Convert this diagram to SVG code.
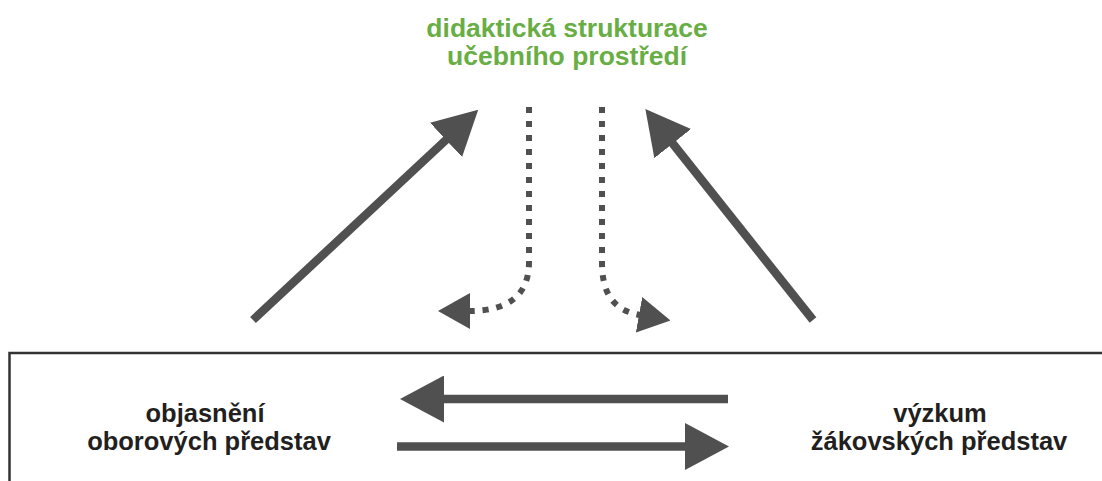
<svg xmlns="http://www.w3.org/2000/svg" width="1102" height="481" viewBox="0 0 1102 481">
  <style>
    .title { font-family: "Liberation Sans", Arial, sans-serif; font-weight: bold; font-size: 26.5px; fill: #68ae44; text-anchor: middle; }
    .label { font-family: "Liberation Sans", Arial, sans-serif; font-weight: bold; font-size: 25.5px; fill: #231f20; text-anchor: middle; }
    .solid { fill: none; stroke: #505050; stroke-width: 8.5; }
    .dotted { fill: none; stroke: #505050; stroke-width: 6; stroke-dasharray: 6 8; }
    .frame { fill: none; stroke: #333333; stroke-width: 2.5; }
  </style>
  <defs>
    <marker id="head" viewBox="0 0 44 47" refX="2" refY="23.5" markerWidth="44" markerHeight="47" markerUnits="userSpaceOnUse" orient="auto">
      <path d="M0,0 L44,23.5 L0,47 Z" fill="#505050"/>
    </marker>
    <marker id="dhead" viewBox="0 0 32 36" refX="1" refY="18" markerWidth="32" markerHeight="36" markerUnits="userSpaceOnUse" orient="auto">
      <path d="M0,0 L32,18 L0,36 Z" fill="#505050"/>
    </marker>
  </defs>

  <rect width="1102" height="481" fill="#ffffff"/>

  <g id="frame">
    <path class="frame" d="M9.5,481 V353 H1102"/>
  </g>

  <g id="node-title">
    <text class="title" x="567" y="37">didaktická strukturace</text>
    <text class="title" x="567" y="65">učebního prostředí</text>
  </g>

  <g id="node-objasneni">
    <text class="label" x="205" y="422">objasnění</text>
    <text class="label" x="209" y="450">oborových představ</text>
  </g>

  <g id="node-vyzkum">
    <text class="label" x="940" y="422">výzkum</text>
    <text class="label" x="939" y="450">žákovských představ</text>
  </g>

  <g id="connectors">
    <path class="solid" d="M253,320 L447.5,138.5" marker-end="url(#head)"/>
    <path class="solid" d="M813,320 L671.5,142" marker-end="url(#head)"/>
    <path class="dotted" d="M529,107 V262 Q529,311 469,311" marker-end="url(#dhead)"/>
    <path class="dotted" d="M602,107 V262 C602,292 612,310 640,315" marker-end="url(#dhead)"/>
    <path class="solid" d="M728,399 H442" marker-end="url(#head)"/>
    <path class="solid" d="M397,446.5 H687" marker-end="url(#head)"/>
  </g>
</svg>
